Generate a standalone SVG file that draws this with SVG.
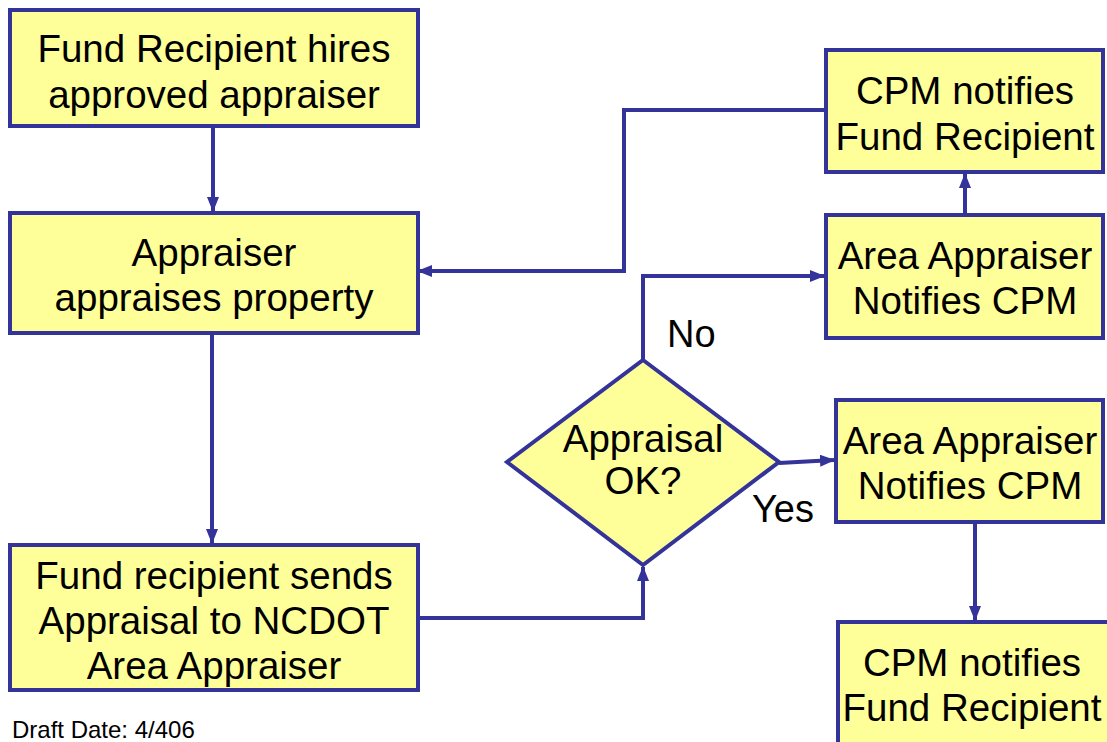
<svg xmlns="http://www.w3.org/2000/svg" width="1107" height="742" viewBox="0 0 1107 742">
  <defs>
    <style>
      .node { fill: #ffff99; stroke: #333399; stroke-width: 4; }
      .lbl { font-family: "Liberation Sans", Arial, sans-serif; font-size: 38.5px; fill: #000; text-anchor: middle; }
      .tag { font-family: "Liberation Sans", Arial, sans-serif; font-size: 38px; fill: #000; }
      .wire { fill: none; stroke: #333399; stroke-width: 4; }
      .note { font-family: "Liberation Sans", Arial, sans-serif; font-size: 24px; fill: #000; }
    </style>
    <marker id="arrow" markerUnits="userSpaceOnUse" markerWidth="15" markerHeight="12" refX="14" refY="6" orient="auto">
      <path d="M0,0 L15,6 L0,12 Z" fill="#333399"/>
    </marker>
  </defs>

  <rect width="1107" height="742" fill="#ffffff"/>

  <!-- connectors -->
  <g id="connectors">
    <path class="wire" d="M213,126 V211" marker-end="url(#arrow)"/>
    <path class="wire" d="M212,333 V543" marker-end="url(#arrow)"/>
    <path class="wire" d="M418,618 H643 V567" marker-end="url(#arrow)"/>
    <path class="wire" d="M643,360 V276 H824" marker-end="url(#arrow)"/>
    <path class="wire" d="M779,463 L834,460" marker-end="url(#arrow)"/>
    <path class="wire" d="M965,215 V174" marker-end="url(#arrow)"/>
    <path class="wire" d="M826,110 H624 V271 H418" marker-end="url(#arrow)"/>
    <path class="wire" d="M975,522 V620" marker-end="url(#arrow)"/>
  </g>

  <!-- hire appraiser -->
  <g id="hire">
    <rect class="node" x="10" y="10" width="408" height="116"/>
    <text class="lbl" x="214" y="62">Fund Recipient hires</text>
    <text class="lbl" x="214" y="108">approved appraiser</text>
  </g>

  <!-- appraisal performed -->
  <g id="appraise">
    <rect class="node" x="10" y="213" width="408" height="120"/>
    <text class="lbl" x="214" y="266">Appraiser</text>
    <text class="lbl" x="214" y="311">appraises property</text>
  </g>

  <!-- submission to area appraiser -->
  <g id="send">
    <rect class="node" x="10" y="545" width="408" height="145"/>
    <text class="lbl" x="214" y="589">Fund recipient sends</text>
    <text class="lbl" x="214" y="634">Appraisal to NCDOT</text>
    <text class="lbl" x="214" y="679">Area Appraiser</text>
  </g>

  <!-- decision -->
  <g id="decision">
    <polygon class="node" points="643,360 779,462 643,565 507,462"/>
    <text class="lbl" x="643" y="452">Appraisal</text>
    <text class="lbl" x="643" y="494">OK?</text>
  </g>

  <!-- branch labels -->
  <g id="labels">
    <text class="tag" x="667" y="347">No</text>
    <text class="tag" x="752" y="522">Yes</text>
  </g>

  <!-- rejected path -->
  <g id="notify-reject">
    <rect class="node" x="826" y="215" width="277" height="123"/>
    <text class="lbl" x="965" y="269">Area Appraiser</text>
    <text class="lbl" x="965" y="314">Notifies CPM</text>
  </g>
  <g id="cpm-reject">
    <rect class="node" x="826" y="50" width="277" height="122"/>
    <text class="lbl" x="965" y="104">CPM notifies</text>
    <text class="lbl" x="965" y="150">Fund Recipient</text>
  </g>

  <!-- accepted path -->
  <g id="notify-accept">
    <rect class="node" x="836" y="400" width="267" height="122"/>
    <text class="lbl" x="970" y="454">Area Appraiser</text>
    <text class="lbl" x="970" y="499">Notifies CPM</text>
  </g>
  <g id="cpm-accept">
    <rect class="node" x="838" y="622" width="290" height="140"/>
    <text class="lbl" x="972" y="676">CPM notifies</text>
    <text class="lbl" x="972" y="721">Fund Recipient</text>
  </g>

  <text class="note" x="12" y="738">Draft Date: 4/406</text>
</svg>
